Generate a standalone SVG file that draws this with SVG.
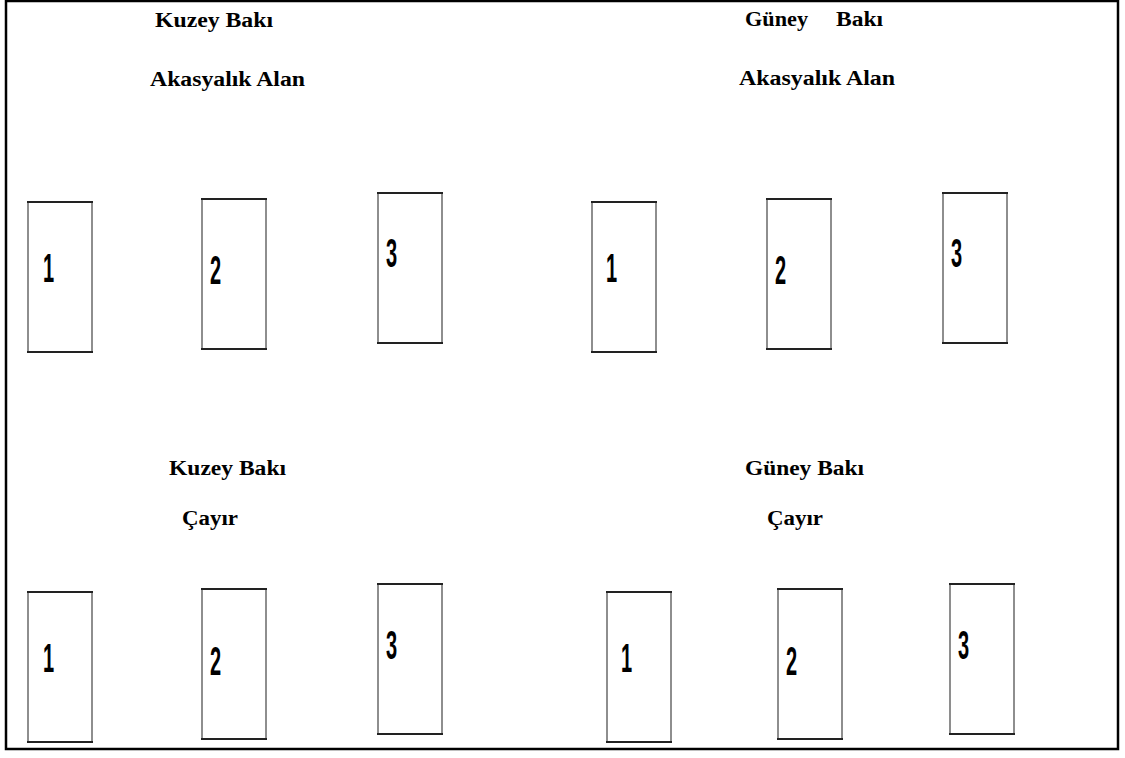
<svg xmlns="http://www.w3.org/2000/svg" width="1125" height="758" viewBox="0 0 1125 758">
  <style>
    .title { font-family: "Liberation Serif", "Times New Roman", serif; font-weight: bold; font-size: 20px; fill: #000; }
    .plot { fill: #fff; stroke: #444; stroke-width: 1.2; }
    .edge { stroke: #222; stroke-width: 2.2; }
    .num { font-family: "Liberation Sans", Arial, sans-serif; font-weight: bold; font-size: 40px; fill: #000; }
    .frame { fill: none; stroke: #000; stroke-width: 2.5; }
  </style>
  <defs>
    <!-- plot: thin sides, heavier top and bottom edges -->
    <g id="plotShape">
      <rect class="plot" x="0" y="0" width="64" height="150"/>
      <line class="edge" x1="-1" y1="0" x2="65" y2="0"/>
      <line class="edge" x1="-1" y1="150" x2="65" y2="150"/>
    </g>
  </defs>

  <rect class="frame" x="6" y="1" width="1112" height="748"/>

  <!-- section headings -->
  <g id="labels">
    <text class="title" x="155" y="27" textLength="118" lengthAdjust="spacingAndGlyphs">Kuzey Bakı</text>
    <text class="title" x="150" y="86" textLength="155" lengthAdjust="spacingAndGlyphs">Akasyalık Alan</text>
    <text class="title" x="745" y="26" textLength="63" lengthAdjust="spacingAndGlyphs">Güney</text>
    <text class="title" x="836" y="26" textLength="47" lengthAdjust="spacingAndGlyphs">Bakı</text>
    <text class="title" x="739" y="85" textLength="156" lengthAdjust="spacingAndGlyphs">Akasyalık Alan</text>
    <text class="title" x="169" y="475" textLength="117" lengthAdjust="spacingAndGlyphs">Kuzey Bakı</text>
    <text class="title" x="182" y="525" textLength="56" lengthAdjust="spacingAndGlyphs">Çayır</text>
    <text class="title" x="745" y="475" textLength="119" lengthAdjust="spacingAndGlyphs">Güney Bakı</text>
    <text class="title" x="767" y="525" textLength="56" lengthAdjust="spacingAndGlyphs">Çayır</text>
  </g>

  <!-- north slope, acacia stand -->
  <g id="nA1"><use href="#plotShape" x="28" y="202"/><text class="num" transform="translate(43,282) scale(0.5,1)">1</text></g>
  <g id="nA2"><use href="#plotShape" x="202" y="199"/><text class="num" transform="translate(210,284) scale(0.5,1)">2</text></g>
  <g id="nA3"><use href="#plotShape" x="378" y="193"/><text class="num" transform="translate(386,267) scale(0.5,1)">3</text></g>

  <!-- south slope, acacia stand -->
  <g id="sA1"><use href="#plotShape" x="592" y="202"/><text class="num" transform="translate(606,282) scale(0.5,1)">1</text></g>
  <g id="sA2"><use href="#plotShape" x="767" y="199"/><text class="num" transform="translate(775,284) scale(0.5,1)">2</text></g>
  <g id="sA3"><use href="#plotShape" x="943" y="193"/><text class="num" transform="translate(951,267) scale(0.5,1)">3</text></g>

  <!-- north slope, meadow -->
  <g id="nM1"><use href="#plotShape" x="28" y="592"/><text class="num" transform="translate(43,672) scale(0.5,1)">1</text></g>
  <g id="nM2"><use href="#plotShape" x="202" y="589"/><text class="num" transform="translate(210,675) scale(0.5,1)">2</text></g>
  <g id="nM3"><use href="#plotShape" x="378" y="584"/><text class="num" transform="translate(386,659) scale(0.5,1)">3</text></g>

  <!-- south slope, meadow -->
  <g id="sM1"><use href="#plotShape" x="607" y="592"/><text class="num" transform="translate(621,672) scale(0.5,1)">1</text></g>
  <g id="sM2"><use href="#plotShape" x="778" y="589"/><text class="num" transform="translate(786,675) scale(0.5,1)">2</text></g>
  <g id="sM3"><use href="#plotShape" x="950" y="584"/><text class="num" transform="translate(958,659) scale(0.5,1)">3</text></g>

  <g id="connectors"></g>
</svg>
